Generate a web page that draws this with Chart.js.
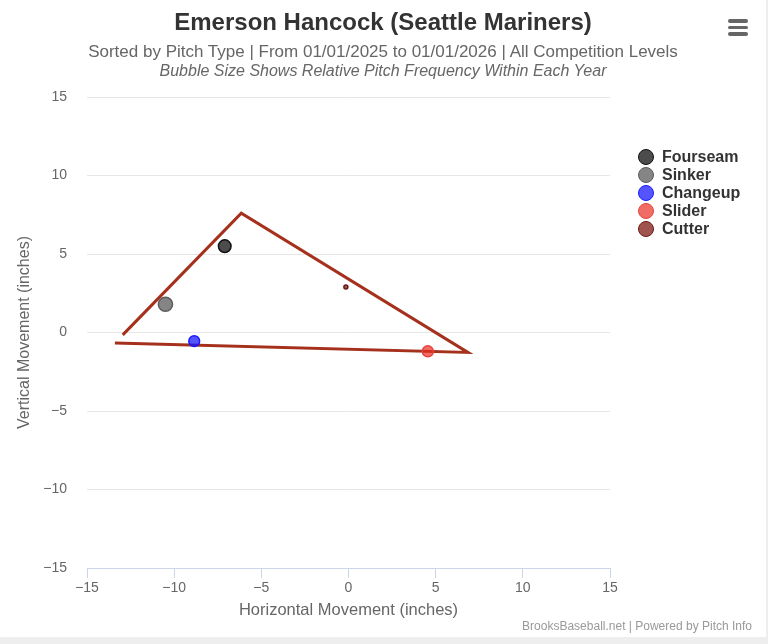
<!DOCTYPE html>
<html>
<head>
<meta charset="utf-8">
<script src="https://cdn.jsdelivr.net/npm/chart.js@4/dist/chart.umd.min.js"></script>
<style>
    body { margin: 0; background: #eeeeee; font-family: "Liberation Sans", Arial, sans-serif; }
    #wrap { position: relative; width: 766px; height: 637px; background: #fff; }
    #wrap canvas { position: absolute; left: 0; top: 0; }
    .title { position: absolute; left: 0; width: 766px; text-align: center; color: #333; font-size: 24px; font-weight: bold; top: 8px; }
    .sub { position: absolute; left: 0; width: 766px; text-align: center; color: #666; font-size: 17px; }
    .sub1 { top: 42px; }
    .sub2 { top: 62px; font-style: italic; font-size: 16px; }
    .menu { position: absolute; left: 728px; top: 19px; width: 20px; }
    .menu div { height: 3.5px; background: #666; border-radius: 2px; margin-bottom: 3px; }
    #legend { position: absolute; left: 638px; top: 148px; }
    .item { height: 18px; display: flex; align-items: center; color: #333; font-weight: bold; font-size: 16px; }
    .dot { width: 14px; height: 14px; border-radius: 50%; border: 1.5px solid; margin-right: 8px; }
    .credits { position: absolute; right: 14px; top: 619px; font-size: 12px; color: #999; }
</style>
</head>
<body>
<div id="wrap">
    <canvas id="chart" width="766" height="637"></canvas>
    <div class="title">Emerson Hancock (Seattle Mariners)</div>
    <div class="sub sub1">Sorted by Pitch Type | From 01/01/2025 to 01/01/2026 | All Competition Levels</div>
    <div class="sub sub2">Bubble Size Shows Relative Pitch Frequency Within Each Year</div>
    <div class="menu"><div></div><div></div><div></div></div>
    <div id="legend"></div>
    <div class="credits">BrooksBaseball.net | Powered by Pitch Info</div>
</div>
<script>
// pitch types and their average movement (inches)
const pitchTypes = ['Fourseam', 'Sinker', 'Changeup', 'Slider', 'Cutter'];
const horzMove = [-7.1, -10.5, -8.85, 4.55, -0.15];
const vertMove = [5.5, 1.8, -0.55, -1.2, 2.9];
// relative usage, % of pitches
const usage = [30, 38, 22, 23, 3];

// outline drawn around the pitch mix
const outlineX = [-12.95, -6.15, 6.85, -13.4];
const outlineY = [-0.15, 7.6, -1.27, -0.67];

const fills = ['rgba(0,0,0,0.7)', 'rgba(0,0,0,0.48)', 'rgba(20,20,255,0.72)', 'rgba(235,45,35,0.7)', 'rgba(120,12,6,0.7)'];
const borders = ['#111111', '#5a5a5a', '#1a1aff', '#e5443a', '#6a1a14'];

const minusSign = v => String(v).replace('-', '\u2212');

const datasets = pitchTypes.map((name, i) => ({
    label: name,
    data: [{ x: horzMove[i], y: vertMove[i], r: Math.sqrt(usage[i]) * 1.15 }],
    backgroundColor: fills[i],
    borderColor: borders[i],
    borderWidth: 1.5
}));

datasets.push({
    type: 'scatter',
    label: 'outline',
    data: outlineX.map((x, i) => ({ x, y: outlineY[i] })),
    showLine: true,
    borderColor: '#a5301c',
    borderWidth: 3,
    pointRadius: 0,
    fill: false
});

Chart.defaults.font.family = '"Liberation Sans", Arial, sans-serif';

new Chart(document.getElementById('chart'), {
    type: 'bubble',
    data: { datasets },
    options: {
        responsive: false,
        animation: false,
        layout: { padding: { top: 97, right: 156, bottom: 0, left: 0 } },
        plugins: {
            legend: { display: false },
            tooltip: { enabled: false }
        },
        scales: {
            x: {
                type: 'linear',
                min: -15, max: 15,
                afterFit: s => { s.height = 69; },
                border: { color: '#ccd6eb', width: 1 },
                grid: { drawOnChartArea: false, drawTicks: true, tickLength: 10, color: '#ccd6eb' },
                ticks: { stepSize: 5, padding: 2, color: '#666', font: { size: 14 }, callback: minusSign },
                title: { display: true, text: 'Horizontal Movement (inches)', color: '#666', font: { size: 16.5 }, padding: { bottom: 17 } }
            },
            y: {
                type: 'linear',
                min: -15, max: 15,
                afterFit: s => { s.width = 87; },
                border: { display: false },
                grid: { color: '#e6e6e6', drawTicks: false },
                ticks: { stepSize: 5, padding: 20, color: '#666', font: { size: 14 }, callback: minusSign },
                title: { display: true, text: 'Vertical Movement (inches)', color: '#666', font: { size: 16 }, padding: { top: 15 } }
            }
        }
    }
});

// legend
const legend = document.getElementById('legend');
pitchTypes.forEach((name, i) => {
    const row = document.createElement('div');
    row.className = 'item';
    row.innerHTML = `<span class="dot" style="background:${fills[i]};border-color:${borders[i]}"></span>${name}`;
    legend.appendChild(row);
});
</script>
</body>
</html>
